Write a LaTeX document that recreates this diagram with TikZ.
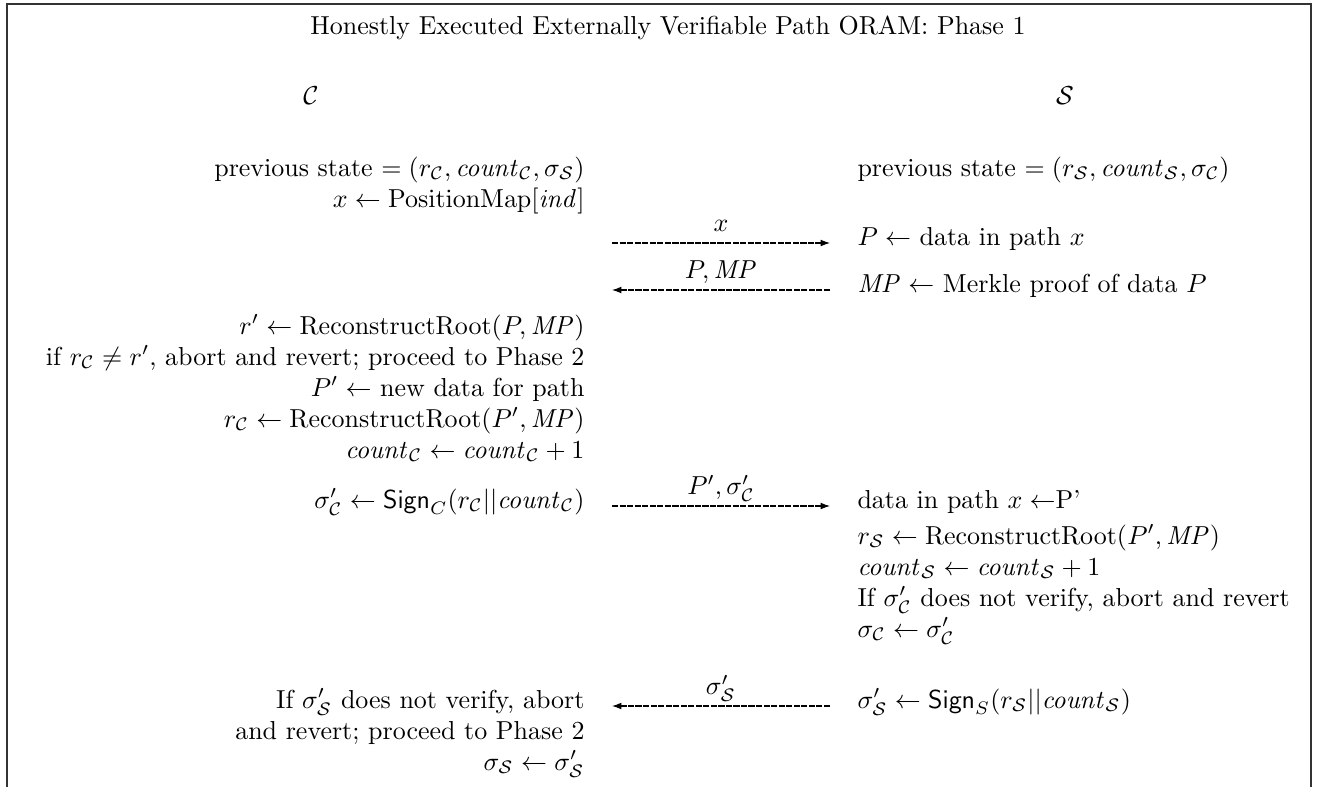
\documentclass[tikz,border=0pt]{standalone}
\usepackage{amsmath,amssymb}
\usetikzlibrary{arrows.meta}
\newcommand{\clC}{\mathcal{C}}
\newcommand{\clS}{\mathcal{S}}
\newcommand{\mycount}{\mathit{count}}
\begin{document}
\begin{tikzpicture}[x=0.385pt,y=-0.385pt,
  lcell/.style={anchor=base east, inner sep=0pt},
  rcell/.style={anchor=base west, inner sep=0pt},
  party/.style={anchor=base, inner sep=0pt},
  msg/.style={line width=0.4pt, dash pattern=on 2.4pt off 0.5pt, -{Latex[length=3.6pt,width=2.6pt]}},
  msglbl/.style={midway, anchor=base, inner sep=0pt, yshift=4.4pt},
  frame/.style={line width=0.45pt, draw=black!80}]
\useasboundingbox (0,0) rectangle (1317,787);
\draw[frame] (7,787) -- (7,4) -- (1311,4) -- (1311,787);
\node[anchor=base, inner sep=0pt] (title) at (668,34) {Honestly Executed Externally Verifiable Path ORAM: Phase 1};
\node[party] (pc) at (311,104) {$\clC$};
\node[party] (ps) at (1065,104) {$\clS$};
% left column
\node[lcell] (l1) at (585,176) {previous state $= (r_{\clC}, \mycount_{\clC}, \sigma_{\clS})$};
\node[lcell] (l2) at (585,207) {$x \leftarrow \mathrm{PositionMap}[\mathit{ind}]$};
\node[lcell] (l3) at (585,334) {$r' \leftarrow \mathrm{ReconstructRoot}(P, \mathit{MP})$};
\node[lcell] (l4) at (585,365) {if $r_{\clC} \neq r'$, abort and revert; proceed to Phase 2};
\node[lcell] (l5) at (585,396) {$P' \leftarrow$ new data for path};
\node[lcell] (l6) at (585,427) {$r_{\clC} \leftarrow \mathrm{ReconstructRoot}(P', \mathit{MP})$};
\node[lcell] (l7) at (585,458) {$\mycount_{\clC} \leftarrow \mycount_{\clC} + 1$};
\node[lcell] (l8) at (585,508) {$\sigma'_{\clC} \leftarrow \mathsf{Sign}_C(r_{\clC} || \mycount_{\clC})$};
\node[lcell] (l9) at (585,708) {If $\sigma'_{\clS}$ does not verify, abort};
\node[lcell] (l10) at (585,739) {and revert; proceed to Phase 2};
\node[lcell] (l11) at (585,770) {$\sigma_{\clS} \leftarrow \sigma'_{\clS}$};
% right column
\node[rcell] (r1) at (857,176) {previous state $= (r_{\clS}, \mycount_{\clS}, \sigma_{\clC})$};
\node[rcell] (r2) at (857,245) {$P \leftarrow$ data in path $x$};
\node[rcell] (r3) at (857,292) {$\mathit{MP} \leftarrow$ Merkle proof of data $P$};
\node[rcell] (r4) at (857,508) {data in path $x \leftarrow$P'};
\node[rcell] (r5) at (857,544) {$r_{\clS} \leftarrow \mathrm{ReconstructRoot}(P', \mathit{MP})$};
\node[rcell] (r6) at (857,575) {$\mycount_{\clS} \leftarrow \mycount_{\clS} + 1$};
\node[rcell] (r7) at (857,606) {If $\sigma'_{\clC}$ does not verify, abort and revert};
\node[rcell] (r8) at (857,637) {$\sigma_{\clC} \leftarrow \sigma'_{\clC}$};
\node[rcell] (r9) at (857,708) {$\sigma'_{\clS} \leftarrow \mathsf{Sign}_S(r_{\clS} || \mycount_{\clS})$};
% message endpoints
\coordinate (m1a) at (612,243); \coordinate (m1b) at (830,243);
\coordinate (m2a) at (830,290); \coordinate (m2b) at (612,290);
\coordinate (m3a) at (612,506); \coordinate (m3b) at (830,506);
\coordinate (m4a) at (830,706); \coordinate (m4b) at (612,706);
\draw[msg] (m1a) -- node[msglbl] (t1) {$x$} (m1b);
\draw[msg] (m2a) -- node[msglbl] (t2) {$P, \mathit{MP}$} (m2b);
\draw[msg] (m3a) -- node[msglbl] (t3) {$P', \sigma'_{\clC}$} (m3b);
\draw[msg] (m4a) -- node[msglbl] (t4) {$\sigma'_{\clS}$} (m4b);
\end{tikzpicture}
\end{document}
